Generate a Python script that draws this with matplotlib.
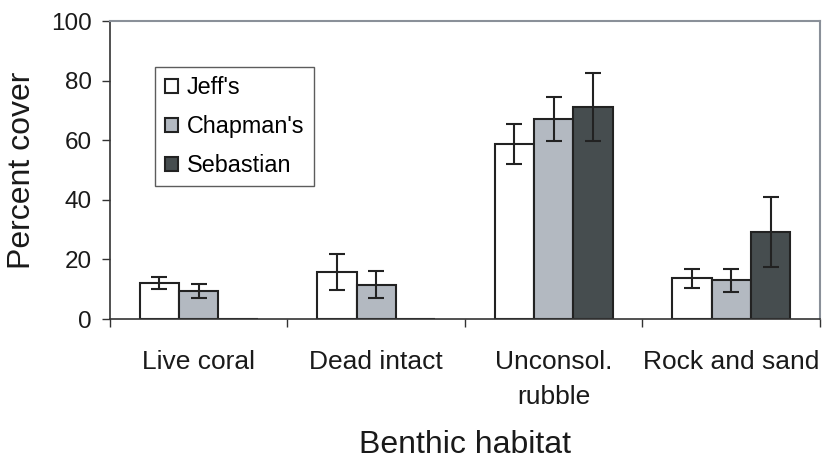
import numpy as np
import matplotlib
matplotlib.use("Agg")
import matplotlib.pyplot as plt

plt.rcParams["font.family"] = ["Liberation Sans", "DejaVu Sans"]

categories = ["Live coral", "Dead intact", "Unconsol.\nrubble", "Rock and sand"]
series = ["Jeff's", "Chapman's", "Sebastian"]
jeff = [12.2, 15.8, 58.6, 13.7]
jeff_err = [2.0, 6.0, 6.7, 3.2]
chapman = [9.4, 11.5, 67.1, 13.0]
chapman_err = [2.5, 4.6, 7.5, 3.9]
sebastian = [0.0, 0.0, 71.1, 29.1]
sebastian_err = [0.0, 0.0, 11.5, 11.7]

colors = ["#ffffff", "#b3b9c1", "#464d4f"]
edge = "#222222"

fig = plt.figure(figsize=(8.25, 4.59), dpi=100)
ax = fig.add_axes([0.1333, 0.305, 0.8606, 0.649])

x = np.arange(len(categories))
w = 0.222
vals = [jeff, chapman, sebastian]
errs = [jeff_err, chapman_err, sebastian_err]
for i in range(3):
    pos = x + (i - 1) * w
    ax.bar(pos, vals[i], width=w, color=colors[i], edgecolor=edge,
           linewidth=1.5, label=series[i], zorder=2)
    e = np.array(errs[i])
    m = e > 0
    ax.errorbar(pos[m], np.array(vals[i])[m], yerr=e[m], fmt="none",
                ecolor=edge, elinewidth=1.5, capsize=5.5, capthick=1.5, zorder=3)

ax.set_xlim(-0.5, 3.5)
ax.set_ylim(0, 100)
ax.set_yticks(np.arange(0, 101, 20))
ax.set_xticks(x)
ax.set_xticklabels(categories, fontsize=19, color="#1a1a1a", linespacing=1.62)
ax.set_xticks(np.arange(-0.5, 3.6, 1), minor=True)
ax.tick_params(axis="x", which="major", length=0, pad=22)
ax.tick_params(axis="x", which="minor", length=6, width=1, color="#333333")
ax.tick_params(axis="y", labelsize=17.5, length=6, width=1, color="#333333",
               labelcolor="#1a1a1a", pad=7)

for s in ["left", "bottom"]:
    ax.spines[s].set_color("#333333")
    ax.spines[s].set_linewidth(1.2)
for s in ["top", "right"]:
    ax.spines[s].set_color("#8a9099")
    ax.spines[s].set_linewidth(1.5)

ax.set_ylabel("Percent cover", fontsize=23, color="#1a1a1a", labelpad=10)
ax.set_xlabel("Benthic habitat", fontsize=23, color="#1a1a1a", labelpad=15)

leg = ax.legend(loc="upper left", bbox_to_anchor=(0.064, 0.846), borderaxespad=0,
                fontsize=16.8, handlelength=0.55, handleheight=0.55, handletextpad=0.4,
                labelspacing=0.68, fancybox=False, frameon=True, borderpad=0.4)
leg.get_frame().set_edgecolor("#333333")
leg.get_frame().set_linewidth(1.0)

fig.savefig("out.png", dpi=100)
